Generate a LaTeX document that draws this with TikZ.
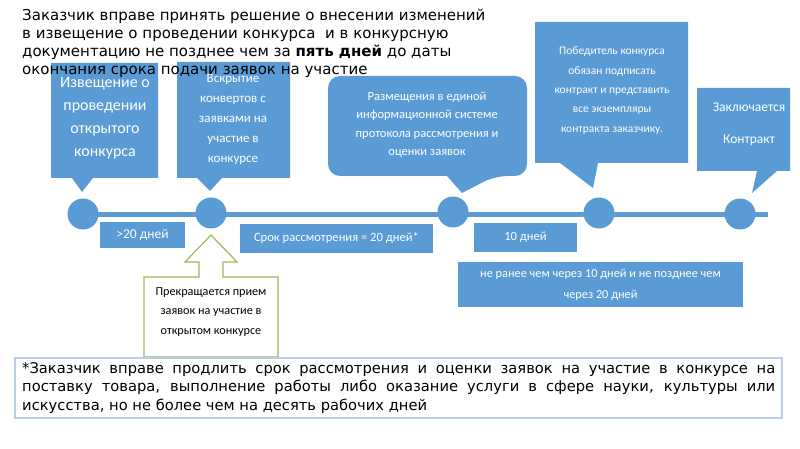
\documentclass[tikz,border=0pt]{standalone}
\usepackage{fontspec}
\setmainfont{DejaVu Sans}
\newfontfamily\calfont{Carlito}
\definecolor{cblue}{RGB}{91,155,213}
\definecolor{cgreen}{RGB}{155,187,89}
\definecolor{cnote}{RGB}{185,205,229}
\tikzset{
  cshape/.style={fill=cblue},
  ctext/.style={text=white, align=center, inner sep=0pt, font=\calfont},
  dot/.style={circle, minimum size=31pt, inner sep=0pt},
  bar/.style={fill=cblue, text=white, font=\calfont\fontsize{12.6}{15}\selectfont, align=center, inner sep=0pt},
}
\begin{document}
\begin{tikzpicture}[x=1pt,y=-1pt]
\useasboundingbox (0,0) rectangle (800,449);
\fill[white] (0,0) rectangle (800,449);
% callouts
\fill[cshape] (51,63) -- (158,63) -- (158,178) -- (93,178) -- (82,192) -- (72,178) -- (51,178) -- cycle;
\fill[cshape] (177,62) -- (290,62) -- (290,178) -- (222,178) -- (210,191) -- (197,178) -- (177,178) -- cycle;
\fill[cshape] (462,193) -- (447,176) [rounded corners=12] -- (328,176) -- (328,76) -- (527,76) -- (527,176) -- (495,176) [sharp corners] -- cycle;
\fill[cshape] (535,22) -- (688,22) -- (688,163) -- (598,163) -- (593,188) -- (560,163) -- (535,163) -- cycle;
\fill[cshape] (697,88) -- (790,88) -- (790,171) -- (777,171) -- (752,193) -- (757,171) -- (697,171) -- cycle;
\node[ctext, font=\calfont\fontsize{16}{23}\selectfont] (t1) at (105,118) {Извещение о\\проведении\\открытого\\конкурса};
\node[ctext, font=\calfont\fontsize{13}{20}\selectfont] (t2) at (233,119) {Вскрытие\\конвертов с\\заявками на\\участие в\\конкурсе};
\node[ctext, font=\calfont\fontsize{12.5}{18.5}\selectfont] (t3) at (427,125) {Размещения в единой\\информационной системе\\протокола рассмотрения и\\оценки заявок};
\node[ctext, font=\calfont\fontsize{11.5}{19.3}\selectfont] (t4) at (612,90.5) {Победитель конкурса\\обязан подписать\\контракт и представить\\все экземпляры\\контракта заказчику.};
\node[ctext, font=\calfont\fontsize{13.5}{32}\selectfont] (t5) at (749,124.5) {Заключается\\Контракт};
% timeline
\coordinate (lineend) at (768,214);
\node[dot] (c1) at (83,214) {};
\node[dot] (c2) at (211,213) {};
\node[dot] (c3) at (453,212) {};
\node[dot] (c4) at (599,213) {};
\node[dot] (c5) at (740,214) {};
\draw[cblue, line width=5pt] (c1.center) -- (lineend);
\foreach \c in {c1,c2,c3,c4,c5}
  \fill[cblue] (\c.center) circle (15.5);
% bars
\node[bar, minimum width=85pt, minimum height=26pt, font=\calfont\fontsize{13.5}{15}\selectfont] (b1) at (142.5,235) {>20 дней};
\node[bar, minimum width=193pt, minimum height=29pt] (b2) at (336.5,238.5) {Срок рассмотрения = 20 дней*};
\node[bar, minimum width=103pt, minimum height=29pt] (b3) at (525.5,237.5) {10 дней};
\node[bar, minimum width=285pt, minimum height=45pt, font=\calfont\fontsize{12.3}{21}\selectfont] (b4) at (600.5,284.5) {не ранее чем через 10 дней и не позднее чем\\через 20 дней};
% up arrow callout
\draw[cgreen, fill=white, line width=1.2pt] (144,277) -- (199,277) -- (199,262) -- (185,262) -- (211,235) -- (237,262) -- (223,262) -- (223,277) -- (278,277) -- (278,357) -- (144,357) -- cycle;
\node[align=center, inner sep=0pt, font=\calfont\fontsize{12.2}{19.5}\selectfont] (gtext) at (211,312) {Прекращается прием\\заявок на участие в\\открытом конкурсе};
% note box
\draw[cnote, fill=white, line width=2.5pt] (15,358) rectangle (782,418);
\node[anchor=north west, inner sep=0pt, text width=753pt, align=justify, font=\fontsize{14.7}{18.5}\selectfont] (note) at (22,362) {*Заказчик вправе продлить срок рассмотрения и оценки заявок на участие в конкурсе на\linebreak поставку товара, выполнение работы либо оказание услуги в сфере науки, культуры или\linebreak искусства, но не более чем на десять рабочих дней};
% top text
\node[anchor=north west, inner sep=0pt, align=left, font=\fontsize{15}{18}\selectfont] (top) at (22,9) {Заказчик вправе принять решение о внесении изменений\\в извещение о проведении конкурса \ и в конкурсную\\документацию не позднее чем за \textbf{пять дней} до даты\\окончания срока подачи заявок на участие};
\end{tikzpicture}
\end{document}
